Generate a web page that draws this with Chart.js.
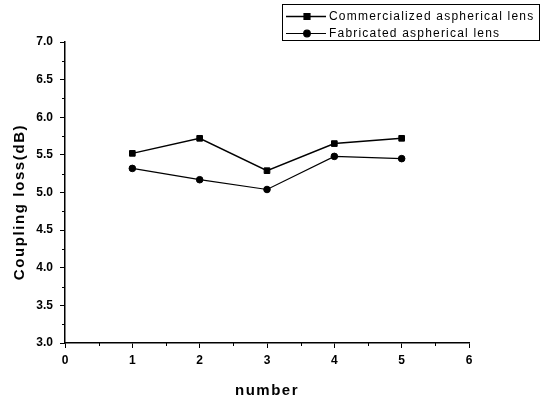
<!DOCTYPE html>
<html>
<head>
<meta charset="utf-8">
<title>Coupling loss</title>
<script src="https://cdn.jsdelivr.net/npm/chart.js@4/dist/chart.umd.min.js"></script>
<style>
  body { margin: 0; background: #fff; }
  #wrap { width: 546px; height: 399px; }
</style>
</head>
<body>
<div id="wrap"><canvas id="lossChart" width="546" height="399"></canvas></div>
<script>
// data
var numbers = [1, 2, 3, 4, 5];
var commercialized = [5.52, 5.72, 5.29, 5.65, 5.72];
var fabricated = [5.32, 5.17, 5.04, 5.48, 5.45];
var seriesNames = ['Commercialized aspherical lens', 'Fabricated aspherical lens'];
var xTitle = 'number';
var yTitle = 'Coupling loss(dB)';

function toPoints(vals) {
  return numbers.map(function(n, i) { return { x: n, y: vals[i] }; });
}

// short minor ticks half way between the labelled ones
var minorTicks = {
  id: 'minorTicks',
  afterDraw: function(chart) {
    var ctx = chart.ctx, a = chart.chartArea;
    var xs = chart.scales.x, ys = chart.scales.y;
    ctx.save();
    ctx.strokeStyle = '#000';
    ctx.lineWidth = 1;
    ctx.beginPath();
    for (var v = 0.5; v < 6; v += 1) {
      var px = Math.round(xs.getPixelForValue(v)) + 0.5;
      ctx.moveTo(px, a.bottom);
      ctx.lineTo(px, a.bottom + 3);
    }
    for (var w = 3.25; w < 7; w += 0.5) {
      var py = Math.round(ys.getPixelForValue(w)) + 0.5;
      ctx.moveTo(a.left, py);
      ctx.lineTo(a.left - 3, py);
    }
    ctx.stroke();
    ctx.restore();
  }
};

// axis titles and the boxed legend, drawn by hand for the spaced lettering
var decorations = {
  id: 'decorations',
  afterDraw: function(chart) {
    var ctx = chart.ctx, a = chart.chartArea;
    ctx.save();
    ctx.fillStyle = '#000';
    ctx.font = 'bold 15px "Liberation Sans", Arial, sans-serif';
    ctx.letterSpacing = '1.5px';
    ctx.textAlign = 'center';
    ctx.textBaseline = 'alphabetic';
    ctx.fillText(xTitle, (a.left + a.right) / 2, 395);

    ctx.save();
    ctx.translate(24, 202);
    ctx.rotate(-Math.PI / 2);
    ctx.letterSpacing = '1.6px';
    ctx.fillText(yTitle, 0, 0);
    ctx.restore();

    // legend box
    ctx.lineWidth = 1;
    ctx.strokeStyle = '#000';
    ctx.strokeRect(282.5, 4.5, 257, 36);
    ctx.font = '12px "Liberation Sans", Arial, sans-serif';
    ctx.letterSpacing = '1.2px';
    ctx.textAlign = 'left';
    ctx.textBaseline = 'middle';
    var rows = [16.5, 33.5];
    chart.data.datasets.forEach(function(ds, i) {
      var y = rows[i];
      ctx.beginPath();
      ctx.lineWidth = ds.borderWidth;
      ctx.moveTo(286, y);
      ctx.lineTo(326, y);
      ctx.stroke();
      Chart.helpers.drawPoint(ctx, {
        pointStyle: ds.pointStyle, radius: ds.pointRadius, borderWidth: 1
      }, 307, y);
      ctx.fillText(ds.label, 329, y + 0.5);
    });
    ctx.restore();
  }
};

var tickFont = { family: '"Liberation Sans", Arial, sans-serif', size: 12, weight: 'bold' };

var lossChart = new Chart(document.getElementById('lossChart').getContext('2d'), {
  type: 'line',
  data: {
    datasets: [{
      label: seriesNames[0],
      data: toPoints(commercialized),
      borderColor: '#000',
      backgroundColor: '#000',
      borderWidth: 1.5,
      pointStyle: 'rect',
      pointRadius: 4,
      pointBorderWidth: 1
    }, {
      label: seriesNames[1],
      data: toPoints(fabricated),
      borderColor: '#000',
      backgroundColor: '#000',
      borderWidth: 1.2,
      pointStyle: 'circle',
      pointRadius: 3.3,
      pointBorderWidth: 1
    }]
  },
  options: {
    responsive: false,
    animation: false,
    layout: { padding: { top: 42, right: 77, left: 0, bottom: 0 } },
    plugins: {
      legend: { display: false },
      tooltip: { enabled: false }
    },
    scales: {
      x: {
        type: 'linear',
        min: 0,
        max: 6,
        afterFit: function(scale) { scale.height = 56; },
        border: { color: '#000', width: 1.5 },
        grid: { drawOnChartArea: false, color: '#000', tickLength: 5, tickWidth: 1 },
        ticks: { stepSize: 1, color: '#000', font: tickFont, padding: 5, maxRotation: 0 }
      },
      y: {
        min: 3,
        max: 7,
        afterFit: function(scale) { scale.width = 65; },
        border: { color: '#000', width: 1.5 },
        grid: { drawOnChartArea: false, color: '#000', tickLength: 5, tickWidth: 1 },
        ticks: {
          stepSize: 0.5, color: '#000', font: tickFont, padding: 7,
          callback: function(v) { return v.toFixed(1); }
        }
      }
    }
  },
  plugins: [minorTicks, decorations]
});
</script>
</body>
</html>
